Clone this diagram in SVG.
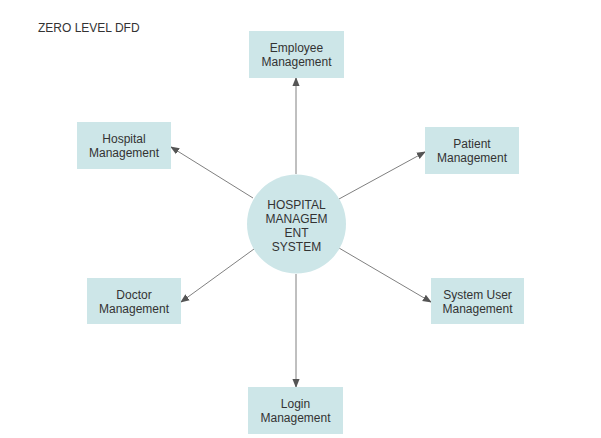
<svg xmlns="http://www.w3.org/2000/svg" width="601" height="438" viewBox="0 0 601 438">
<style>
.box{fill:#cde6e8;stroke:none}
.t{font-family:"Liberation Sans",Arial,sans-serif;font-size:12px;fill:#333333;text-anchor:middle}
.title{font-family:"Liberation Sans",Arial,sans-serif;font-size:12px;fill:#333333}
.c{stroke:#808080;stroke-width:1;fill:none;marker-end:url(#arr)}
</style>
<defs>
<marker id="arr" viewBox="0 0 10 10" refX="9" refY="5" markerWidth="9" markerHeight="9" markerUnits="userSpaceOnUse" orient="auto">
<path d="M0,1 L10,5 L0,9 Z" fill="#555555"/>
</marker>
</defs>
<rect width="601" height="438" fill="#ffffff"/>
<text class="title" x="38" y="32">ZERO LEVEL DFD</text>
<g id="connectors">
<line class="c" x1="296" y1="174" x2="296" y2="78"/>
<line class="c" x1="253" y1="198" x2="171" y2="147"/>
<line class="c" x1="339" y1="199" x2="425" y2="152"/>
<line class="c" x1="254" y1="249" x2="181" y2="302"/>
<line class="c" x1="339" y1="248" x2="431" y2="302"/>
<line class="c" x1="296" y1="274" x2="296" y2="387"/>
</g>
<g id="center">
<circle cx="296.5" cy="224" r="49.5" fill="#cde6e8"/>
<text class="t" x="296.5" y="208.5">HOSPITAL</text>
<text class="t" x="296.5" y="222.5">MANAGEM</text>
<text class="t" x="296.5" y="236.5">ENT</text>
<text class="t" x="296.5" y="250.5">SYSTEM</text>
</g>
<g id="employee">
<rect class="box" x="249" y="31" width="95" height="47"/>
<text class="t" x="296.5" y="52">Employee</text>
<text class="t" x="296.5" y="66">Management</text>
</g>
<g id="hospital">
<rect class="box" x="77" y="122" width="94" height="47"/>
<text class="t" x="124" y="143">Hospital</text>
<text class="t" x="124" y="157">Management</text>
</g>
<g id="patient">
<rect class="box" x="425" y="127" width="94" height="47"/>
<text class="t" x="472" y="148">Patient</text>
<text class="t" x="472" y="162">Management</text>
</g>
<g id="doctor">
<rect class="box" x="87" y="278" width="94" height="46"/>
<text class="t" x="134" y="299">Doctor</text>
<text class="t" x="134" y="313">Management</text>
</g>
<g id="systemuser">
<rect class="box" x="431" y="278" width="93" height="46"/>
<text class="t" x="477.5" y="299">System User</text>
<text class="t" x="477.5" y="313">Management</text>
</g>
<g id="login">
<rect class="box" x="248" y="387" width="95" height="47"/>
<text class="t" x="295.5" y="408">Login</text>
<text class="t" x="295.5" y="422">Management</text>
</g>
</svg>
